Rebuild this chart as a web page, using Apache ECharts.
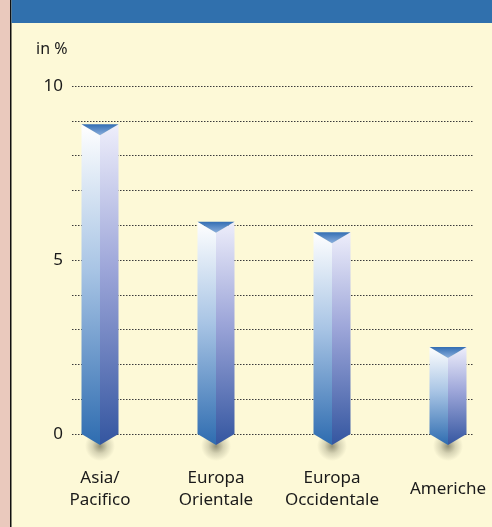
<!DOCTYPE html>
<html><head><meta charset="utf-8">
<script src="https://cdn.jsdelivr.net/npm/echarts@6/dist/echarts.min.js"></script>
<style>html,body{margin:0;padding:0;background:#FDF9D7;}#c{width:492px;height:527px;}</style>
</head><body><div id="c"></div>
<script>
const categories = ['Asia/\nPacifico', 'Europa\nOrientale', 'Europa\nOccidentale', 'Americhe'];
const values = [8.9, 6.1, 5.8, 2.5];
const yTickLabels = { 0: '0', 5: '5', 10: '10' };
const unitLabel = 'in %';

const FONT = 'Noto Sans';
const chart = echarts.init(document.getElementById('c'), null, { renderer: 'canvas' });

function renderItem(params, api) {
  const i = api.value(0), v = api.value(1);
  const top = api.coord([i, v]);
  const base = api.coord([i, 0]);
  const xc = top[0], hw = 18.5, cap = 11, vee = 11;
  const x0 = xc - hw, x1 = xc + hw, yt = top[1], yb = base[1];
  return {
    type: 'group',
    children: [
      { type: 'ellipse', shape: { cx: xc, cy: yb + 12, rx: 34, ry: 15 },
        style: { fill: new echarts.graphic.RadialGradient(0.5, 0.5, 0.5, [
          { offset: 0, color: 'rgba(60,60,40,0.55)' },
          { offset: 0.5, color: 'rgba(60,60,40,0.2)' },
          { offset: 1, color: 'rgba(60,60,40,0)' }]) } },
      { type: 'polygon', shape: { points: [[x0, yt], [xc, yt + cap], [xc, yb + vee], [x0, yb]] },
        style: { fill: new echarts.graphic.LinearGradient(0, 0, 0, 1, [
          { offset: 0, color: '#FFFFFF' },
          { offset: 0.45, color: '#A9C5E5' },
          { offset: 1, color: '#2E6CB0' }]) } },
      { type: 'polygon', shape: { points: [[xc, yt + cap], [x1, yt], [x1, yb], [xc, yb + vee]] },
        style: { fill: new echarts.graphic.LinearGradient(0, 0, 0, 1, [
          { offset: 0, color: '#EEEEFB' },
          { offset: 0.45, color: '#9DA6D9' },
          { offset: 1, color: '#3456A0' }]) } },
      { type: 'polygon', shape: { points: [[x0, yt], [x1, yt], [xc, yt + cap]] },
        style: { fill: new echarts.graphic.LinearGradient(0, 0, 0, 1, [
          { offset: 0, color: '#336EB3' },
          { offset: 1, color: '#8AAEDD' }]) } }
    ]
  };
}

chart.setOption({
  backgroundColor: '#FDF9D7',
  animation: false,
  textStyle: { fontFamily: FONT },
  grid: [
    { left: 72, width: 401, top: 86, bottom: 93, outerBoundsMode: 'none' },
    { left: 42, width: 464, top: 86, bottom: 93, outerBoundsMode: 'none' }
  ],
  xAxis: [
    { type: 'value', gridIndex: 0, show: false, min: 0, max: 1 },
    { type: 'category', gridIndex: 1, data: categories,
      axisLine: { show: false }, axisTick: { show: false },
      axisLabel: { fontFamily: FONT, fontSize: 17, color: '#1a1a1a', lineHeight: 22,
        margin: 55, verticalAlign: 'middle', interval: 0 } }
  ],
  yAxis: [
    { type: 'value', gridIndex: 0, min: 0, max: 10, interval: 1,
      axisLine: { show: false }, axisTick: { show: false },
      axisLabel: { fontFamily: FONT, fontSize: 17, color: '#1a1a1a', margin: 9,
        formatter: v => (yTickLabels[v] !== undefined ? yTickLabels[v] : '') },
      splitLine: { show: true, lineStyle: { color: '#3a3a3a', width: 1, type: [1.5, 1.5] } } },
    { type: 'value', gridIndex: 1, min: 0, max: 10, show: false, splitLine: { show: false } }
  ],
  series: [
    { type: 'custom', xAxisIndex: 1, yAxisIndex: 1, renderItem: renderItem,
      data: values.map((v, i) => [i, v]), z: 5 }
  ],
  graphic: [
    { type: 'rect', left: 0, top: 0, shape: { width: 10, height: 527 }, style: { fill: '#EAC9BD' }, z: -1 },
    { type: 'rect', left: 10, top: 0, shape: { width: 1.5, height: 527 }, style: { fill: '#111' }, z: -1 },
    { type: 'rect', left: 11.5, top: 0, shape: { width: 481, height: 23 }, style: { fill: '#3070AD' }, z: -1 },
    { type: 'text', left: 36, top: 41, style: { text: unitLabel, fontFamily: FONT, fontSize: 16, fill: '#1a1a1a' } }
  ]
});
</script></body></html>
